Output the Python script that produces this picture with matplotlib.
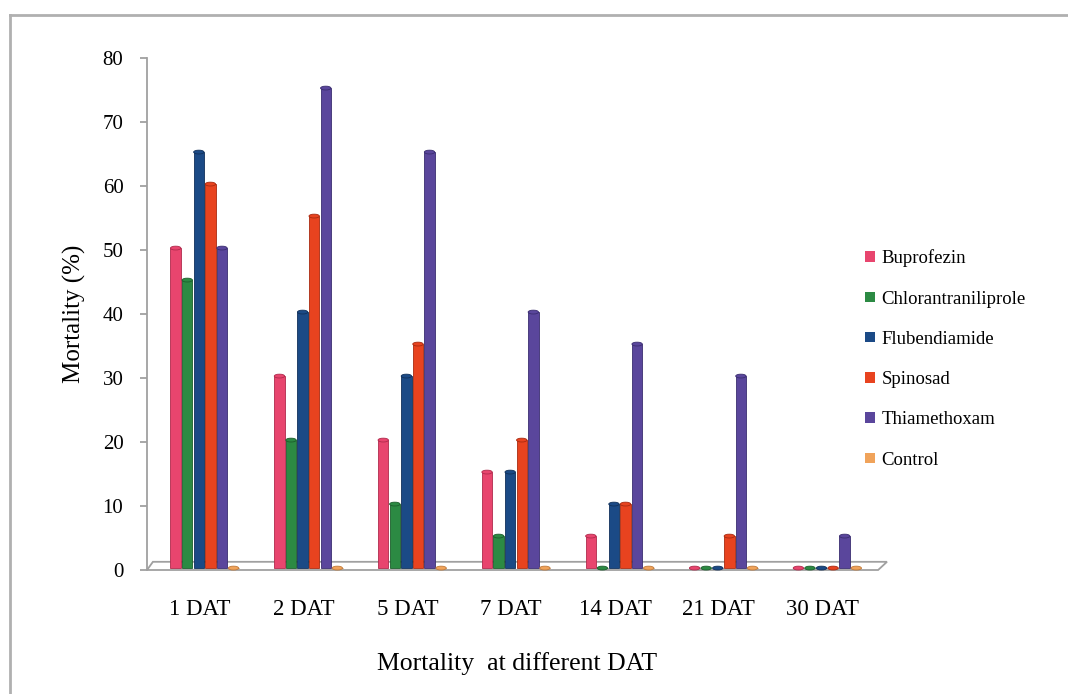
import numpy as np
import matplotlib
matplotlib.use("Agg")
import matplotlib.pyplot as plt
import matplotlib.patches as ptc

plt.rcParams['font.family'] = ['Liberation Serif', 'DejaVu Serif']

# Data
days = ["1 DAT", "2 DAT", "5 DAT", "7 DAT", "14 DAT", "21 DAT", "30 DAT"]
buprofezin = [50, 30, 20, 15, 5, 0, 0]
chlorantraniliprole = [45, 20, 10, 5, 0, 0, 0]
flubendiamide = [65, 40, 30, 15, 10, 0, 0]
spinosad = [60, 55, 35, 20, 10, 5, 0]
thiamethoxam = [50, 75, 65, 40, 35, 30, 5]
control = [0, 0, 0, 0, 0, 0, 0]

names = ["Buprofezin", "Chlorantraniliprole", "Flubendiamide", "Spinosad",
         "Thiamethoxam", "Control"]
series = [buprofezin, chlorantraniliprole, flubendiamide, spinosad,
          thiamethoxam, control]
colors = ["#e8456e", "#2c8a43", "#1b4a86", "#e8431f", "#5a469c", "#f0a35a"]
edges = ["#b02a4c", "#1c5e2c", "#10305a", "#a82a10", "#3a2d70", "#c07a3a"]

fig = plt.figure(figsize=(10.68, 6.94), dpi=100)

# outer frame (left and top only visible)
fig.add_artist(plt.Line2D([10/1068, 10/1068], [0, 1 - 15/694],
                          color="#b0b0b0", lw=2, transform=fig.transFigure))
fig.add_artist(plt.Line2D([10/1068, 1], [1 - 15/694, 1 - 15/694],
                          color="#b0b0b0", lw=2, transform=fig.transFigure))

ax = fig.add_axes([147/1068, 124/694, 740/1068, 512/694])
ax.set_xlim(-0.51, 6.62)
ax.set_ylim(0, 80)

x = np.arange(len(days))
step = 0.1115
bw = 0.1
offs = (np.arange(len(series)) - 2.5) * step + 0.045

# floor
floor = ptc.Polygon([(0, 0), (0.988, 0), (1.0, 0.016), (0.008, 0.016)],
                    closed=True, facecolor="white", edgecolor="#a0a0a0",
                    lw=1.3, transform=ax.transAxes, clip_on=False, zorder=1)
ax.add_patch(floor)

for i, (vals, c, ec, nm) in enumerate(zip(series, colors, edges, names)):
    xs = x + offs[i]
    ax.bar(xs, vals, width=bw, color=c, edgecolor=ec, linewidth=0.6,
           bottom=0.3, label=nm, zorder=3)
    for xi, v in zip(xs, vals):
        ax.add_patch(ptc.Ellipse((xi, v + 0.3), bw, 0.6, facecolor=c,
                                 edgecolor=ec, lw=0.6, zorder=4, clip_on=False))

for s in ["top", "right", "bottom"]:
    ax.spines[s].set_visible(False)
ax.spines["left"].set_color("#a0a0a0")
ax.spines["left"].set_linewidth(1.3)

ax.set_yticks(np.arange(0, 81, 10))
ax.tick_params(axis="y", length=5, color="#a0a0a0", width=1.3,
               labelsize=15, pad=12)
ax.set_xticks(x)
ax.set_xticklabels(days)
ax.tick_params(axis="x", length=0, labelsize=16.5, pad=21)

ax.set_ylabel("Mortality (%)", fontsize=18, labelpad=12)
ax.set_xlabel("Mortality  at different DAT", fontsize=18.5, labelpad=23)

handles = [ptc.Patch(facecolor=c, edgecolor="none") for c in colors]
leg = fig.legend(handles, names, loc="upper left",
                 bbox_to_anchor=(856/1068, 1 - 240/694), frameon=False,
                 fontsize=13.5, handlelength=0.5, handleheight=0.5,
                 handletextpad=0.35, labelspacing=1.24, borderpad=0)

fig.savefig("out.png", dpi=100)
